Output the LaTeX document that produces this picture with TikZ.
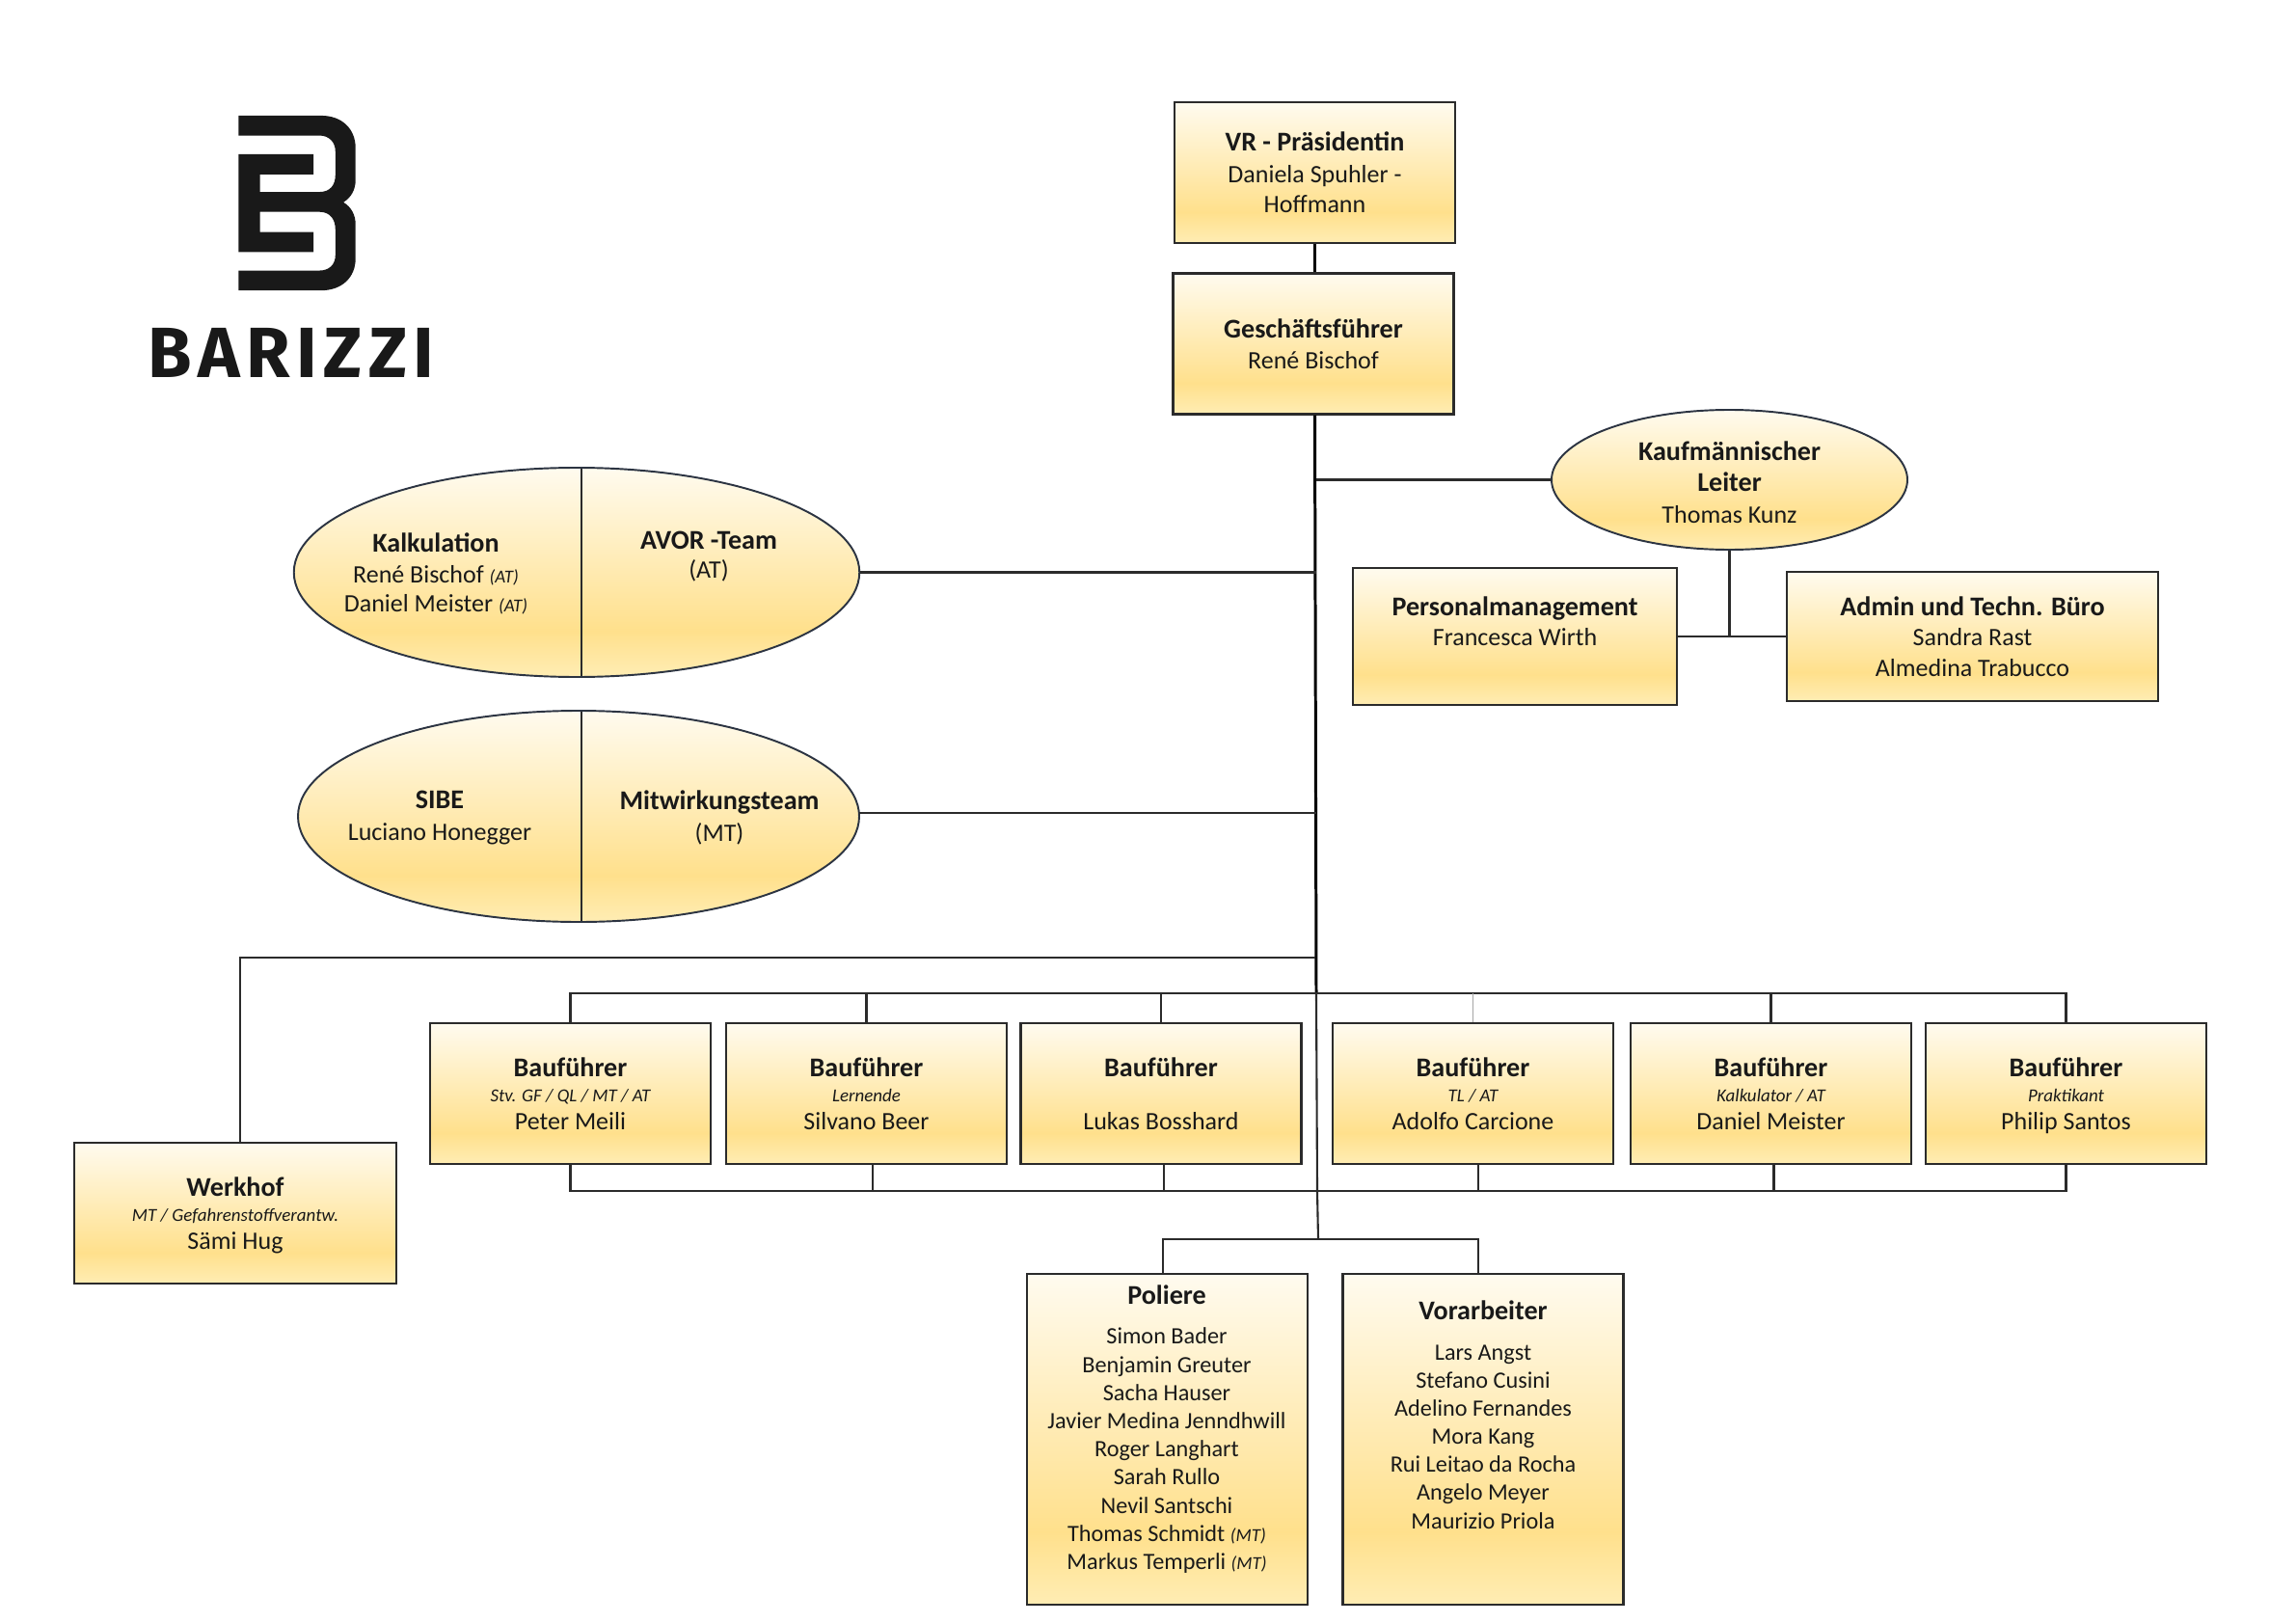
\documentclass[tikz,border=0pt]{standalone}
\usepackage{fontspec}
\setmainfont{Carlito}
\newfontfamily\logofont[LetterSpace=9]{Fira Sans}
\usetikzlibrary{positioning,shapes.geometric}
\definecolor{goldtop}{HTML}{FFFBEF}
\definecolor{goldmid}{HTML}{FFE08C}
\definecolor{goldbot}{HTML}{FFEDB4}
\definecolor{linec}{HTML}{2B2B2B}
\definecolor{ovalc}{HTML}{2C3442}
\pgfdeclareverticalshading{goldbox}{100bp}{color(0bp)=(goldbot); color(25bp)=(goldbot); color(36bp)=(goldmid); color(75bp)=(goldtop); color(100bp)=(goldtop)}
\newcommand{\ttl}[1]{{\fontsize{8}{9}\selectfont\bfseries #1}}
\newcommand{\subl}[1]{{\fontsize{5.4}{9}\selectfont\itshape #1}}
\newcommand{\roleblock}[3]{\ttl{#1}\\[-1.5pt]\subl{#2}\\[-1pt]\smash{#3}\rule{0pt}{5pt}}
\tikzset{
  orgbox/.style={draw=linec,line width=.6pt,shading=goldbox,minimum width=2.91cm,minimum height=1.46cm,inner sep=0pt,align=center,text=black!90},
  orgoval/.style={ellipse,draw=ovalc,line width=.55pt,shading=goldbox,inner sep=0pt,align=center,text=black!90},
  ovaltext/.style={inner sep=0pt,align=center,text=black!90},
  listtext/.style={ovaltext,font=\fontsize{6.9}{8.3}\selectfont},
  linea/.style={draw=linec,line width=.6pt},
  trunk/.style={draw=black,line width=.85pt}
}
\begin{document}
\begin{tikzpicture}[x=1cm,y=-1cm,on grid,font=\fontsize{7.4}{9}\selectfont]
   \useasboundingbox (0,0) rectangle (23.81,16.83);
   % logo
   \begin{scope}[shift={(1.00,0.80)},x=0.003333cm,y=-0.003333cm]
   \fill[black!90] (443,120) -- (700,120) .. controls (765,120) and (808,160) .. (808,222) -- (808,320) .. controls (808,350) and (795,375) .. (770,390) .. controls (795,405) and (808,430) .. (808,460) -- (808,565) .. controls (808,625) and (765,665) .. (700,665) -- (443,665) -- (443,603) -- (695,603) .. controls (725,603) and (745,585) .. (745,555) -- (745,475) .. controls (745,445) and (730,420) .. (695,420) -- (510,420) -- (510,483) -- (677,483) -- (677,545) -- (443,545) -- (443,240) -- (677,240) -- (677,303) -- (510,303) -- (510,358) -- (695,358) .. controls (730,358) and (745,335) .. (745,305) -- (745,232) .. controls (745,202) and (725,182) .. (695,182) -- (443,182) -- cycle;
   \end{scope}
   \node[inner sep=0pt,text=black!90] (logo) at (3.02,3.655) {\logofont\fontsize{21}{22}\selectfont\bfseries BARIZZI};
   % top of the tree
   \node[orgbox] (vr) at (13.635,1.79) {\ttl{VR - Präsidentin}\\[.3pt]Daniela Spuhler -\\Hoffmann};
   \node[orgbox] (gf) at (13.62,3.565) {\ttl{Geschäftsführer}\\René Bischof};
   \node[orgoval,minimum width=3.69cm,minimum height=1.45cm] (kl) at (17.935,4.975) {\rule{0pt}{7pt}\ttl{Kaufmännischer}\\[.3pt]\ttl{Leiter}\\[.3pt]Thomas Kunz};
   \node[orgbox,minimum width=3.355cm,minimum height=1.42cm] (pm) at (15.71,6.6) {\ttl{Personalmanagement}\\Francesca Wirth\\};
   \node[orgbox,minimum width=3.85cm,minimum height=1.34cm] (ad) at (20.455,6.60) {\ttl{Admin und Techn. Büro}\\Sandra Rast\\Almedina Trabucco};
   % ovals
   \node[orgoval,minimum width=5.865cm,minimum height=2.17cm] (ka) at (5.98,5.935) {};
   \node[orgoval,minimum width=5.82cm,minimum height=2.19cm] (si) at (6.00,8.465) {};
   \coordinate (kat) at (6.03,4.86);
   \coordinate (kab) at (6.03,7.01);
   \coordinate (sit) at (6.03,7.38);
   \coordinate (sib) at (6.03,9.55);
   \coordinate (sic) at (8.91,8.43);
   \node[ovaltext] (kaleft) at (4.52,5.95) {\ttl{Kalkulation}\\René Bischof \subl{(AT)}\\[-.4pt]Daniel Meister \subl{(AT)}};
   \node[ovaltext] (karight) at (7.35,5.77) {\ttl{AVOR -Team}\\[-.7pt](AT)};
   \node[ovaltext] (sileft) at (4.56,8.48) {\ttl{SIBE}\\[.5pt]Luciano Honegger};
   \node[ovaltext] (siright) at (7.46,8.48) {\ttl{Mitwirkungsteam}\\[.5pt](MT)};
   % row of site managers
   \node[orgbox] (bf1) at (5.915,11.34) {\roleblock{Bauführer}{Stv. GF / QL / MT / AT}{Peter Meili}};
   \node[orgbox] (bf2) [right=3.07cm of bf1] {\roleblock{Bauführer}{Lernende}{Silvano Beer}};
   \node[orgbox] (bf3) [right=3.055cm of bf2] {\roleblock{Bauführer}{}{Lukas Bosshard}};
   \node[orgbox] (bf4) [right=3.235cm of bf3] {\roleblock{Bauführer}{TL / AT}{Adolfo Carcione}};
   \node[orgbox] (bf5) [right=3.09cm of bf4] {\roleblock{Bauführer}{Kalkulator / AT}{Daniel Meister}};
   \node[orgbox] (bf6) [right=3.06cm of bf5] {\roleblock{Bauführer}{Praktikant}{Philip Santos}};
   \node[orgbox,minimum width=3.34cm] (wh) at (2.44,12.58) {\roleblock{Werkhof}{MT / Gefahrenstoffverantw.}{Sämi Hug}};
   % bottom boxes
   \node[orgbox,minimum height=3.43cm] (po) at (12.105,14.925) {};
   \node[orgbox,minimum height=3.43cm] (vo) at (15.38,14.925) {};
   \node[listtext] (polist) at (12.10,14.82) {\ttl{Poliere}\\[3.5pt]Simon Bader\\Benjamin Greuter\\Sacha Hauser\\Javier Medina Jenndhwill\\Roger Langhart\\Sarah Rullo\\Nevil Santschi\\Thomas Schmidt \subl{(MT)}\\Markus Temperli \subl{(MT)}};
   \node[listtext] (volist) at (15.38,14.67) {\ttl{Vorarbeiter}\\[3.5pt]Lars Angst\\Stefano Cusini\\Adelino Fernandes\\Mora Kang\\Rui Leitao da Rocha\\Angelo Meyer\\Maurizio Priola};
   % joints of the lines
   \coordinate (tw) at (13.64,9.93);
   \coordinate (tb) at (13.65,10.30);
   \coordinate (tm) at (13.66,12.35);
   \coordinate (tl) at (13.67,12.85);
   \draw[trunk] (vr.south) -- (vr.south |- gf.north);
   \draw[trunk] ([xshift=.015cm]gf.south) -- (tb);
   \draw[linea] (tb) -- (tm) -- (tl);
   \draw[linea] (kl.west) -- (kl.west -| tb);
   \draw[linea] (kl.south) -- (kl.south |- pm.east);
   \draw[linea] (pm.east) -- (pm.east -| ad.west);
   \draw[linea] (ka.east) -- (ka.east -| tb);
   \draw[linea] (sic) -- (sic -| tb);
   \draw[linea] (kat) -- (kab);
   \draw[linea] (sit) -- (sib);
   \draw[linea] ([xshift=.05cm]wh.north) |- (tw);
   \draw[linea] (bf1.north) |- (tb);
   \draw[linea] (bf6.north) |- (tb);
   \foreach \n in {bf2,bf3,bf5}
     \draw[linea] (\n.north) -- (\n.north |- tb);
   \draw[draw=black!35,line width=.4pt] (bf4.north) -- (bf4.north |- tb);
   \draw[linea] (bf1.south) |- (tm);
   \draw[linea] (bf6.south) |- (tm);
   \foreach \n/\dx in {bf2/.065,bf3/.03,bf4/.055,bf5/.03}
     \draw[linea] ([xshift=\dx cm]\n.south) -- ([xshift=\dx cm]\n.south |- tm);
   \draw[linea] ([xshift=-.045cm]po.north) |- (tl);
   \draw[linea] ([xshift=-.05cm]vo.north) |- (tl);
\end{tikzpicture}
\end{document}
